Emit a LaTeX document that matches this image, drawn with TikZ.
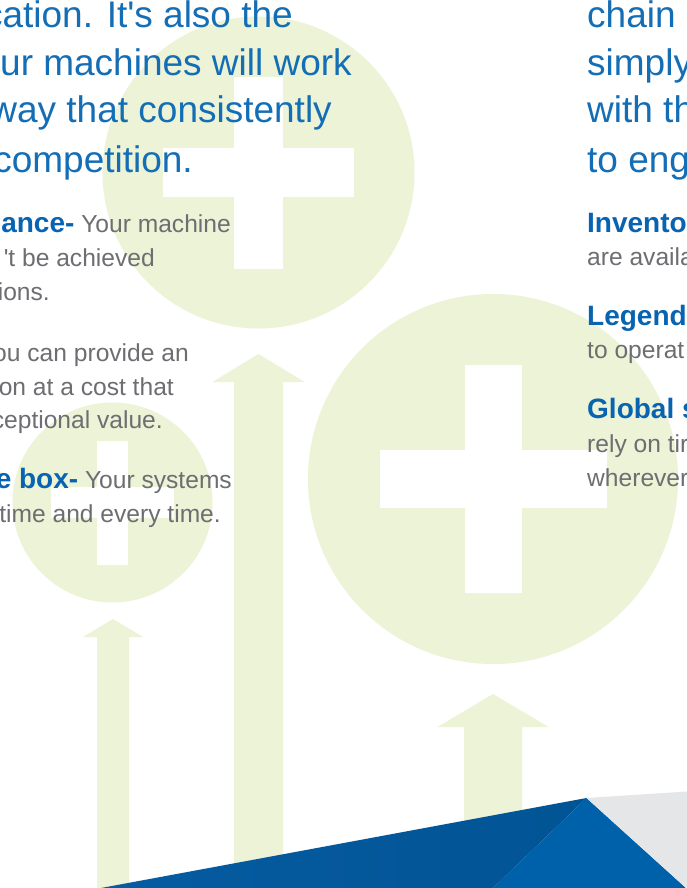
\documentclass[tikz,border=0pt]{standalone}
\usepackage{fontspec}
\setmainfont{Liberation Sans}[Ligatures=TeXOff]
\definecolor{leaf}{RGB}{236,243,214}
\definecolor{headblue}{RGB}{20,110,182}
\definecolor{boldblue}{RGB}{8,100,176}
\definecolor{txtgray}{RGB}{109,110,113}
\definecolor{navyL}{RGB}{6,92,162}
\definecolor{navyR}{RGB}{1,84,148}
\definecolor{midblue}{RGB}{0,97,171}
\definecolor{lightgray}{RGB}{229,230,232}
\newcommand{\upArrowFill}[5]{% cx, tip, base, half head, half shaft
  \fill[leaf] (#1,#2) -- ({#1+#4},#3) -- ({#1+#5},#3) -- ({#1+#5},888) -- ({#1-#5},888) -- ({#1-#5},#3) -- ({#1-#4},#3) -- cycle;}
\newcommand{\hdb}[1]{{\fontsize{28}{30}\selectfont\bfseries\color{boldblue}#1}}
\tikzset{
  disc/.style={circle, fill=leaf, inner sep=0pt, outer sep=0pt},
  bar/.style={rectangle, fill=white, inner sep=0pt, outer sep=0pt},
  headR/.style={font=\fontsize{37}{40}\selectfont, text=headblue, inner sep=0pt, anchor=base east},
  headL/.style={font=\fontsize{37}{40}\selectfont, text=headblue, inner sep=0pt, anchor=base west},
  bodyR/.style={font=\fontsize{24.6}{28}\selectfont, text=txtgray, inner sep=0pt, anchor=base east},
  bodyL/.style={font=\fontsize{24.6}{28}\selectfont, text=txtgray, inner sep=0pt, anchor=base west},
  boldL/.style={font=\fontsize{28}{30}\selectfont\bfseries, text=boldblue, inner sep=0pt, anchor=base west},
}
\begin{document}
\begin{tikzpicture}[x=1pt, y=-1pt]
\useasboundingbox (0,0) rectangle (687,888);
\clip (0,0) rectangle (687,888);
\fill[white] (0,0) rectangle (687,888);

% circles
\node[disc, minimum size=312pt] (circTop) at (258.5,172.5) {};
\node[disc, minimum size=200pt] (circSmall) at (112.5,502.5) {};
\node[disc, minimum size=370pt] (circBig) at (493,479) {};

% crosses
\node[bar, minimum width=49pt, minimum height=192pt] (topV) at (258.5,173) {};
\node[bar, minimum width=191pt, minimum height=49pt] (topH) at (258.5,172.5) {};
\node[bar, minimum width=31pt, minimum height=124pt] (smallV) at (112.5,503) {};
\node[bar, minimum width=123pt, minimum height=31pt] (smallH) at (112.5,502.5) {};
\node[bar, minimum width=57pt, minimum height=228pt] (bigV) at (493.5,479) {};
\node[bar, minimum width=227pt, minimum height=58pt] (bigH) at (493.5,479) {};

% arrows
\upArrowFill{113}{619}{637}{30}{16}
\upArrowFill{258.5}{354}{382}{46}{24.5}
\upArrowFill{493}{694}{727}{55.5}{29}

% headline left
\node[headR] (h1) at (293,28) {cation. It's also the};
\node[headR] (h2) at (352,76) {ur machines will work};
\node[headR] (h3) at (332,123) {way that consistently};
\node[headR] (h4) at (193,172) {competition.};

% headline right
\node[headL] (r1) at (587,28) {chain l};
\node[headL] (r2) at (587,76) {simply};
\node[headL] (r3) at (587,123) {with th};
\node[headL] (r4) at (587,172) {to eng};

% left body
\node[bodyR] (l1) at (231,232) {\hdb{ance-} Your machine};
\node[bodyR] (l2) at (155,266) {'t be achieved};
\node[bodyR] (l3) at (50,300) {ions.};
\node[bodyR] (l4) at (189,361) {ou can provide an};
\node[bodyR] (l5) at (174,395) {on at a cost that};
\node[bodyR] (l6) at (163,428) {ceptional value.};
\node[bodyR] (l7) at (232,488) {\hdb{e box-} Your systems};
\node[bodyR] (l8) at (221,522) {time and every time.};

% right body
\node[boldL] (b1) at (587,232) {Invento};
\node[bodyL] (b2) at (587,265) {are availa};
\node[boldL] (b3) at (587,325) {Legend};
\node[bodyL] (b4) at (587,358) {to operat};
\node[boldL] (b5) at (587,418) {Global s};
\node[bodyL] (b6) at (587,452) {rely on tir};
\node[bodyL] (b7) at (587,486) {wherever};

% bottom polygons
\coordinate (apex) at (586.5,798);
\coordinate (leftFoot) at (101,888);
\coordinate (midFoot) at (493,888);
\coordinate (rightFoot) at (686,888);
\coordinate (grayTop) at (687,791.5);
\coordinate (grayFoot) at (687,888);
\shade[left color=navyL, right color=navyR] (leftFoot) -- (apex) -- (midFoot) -- cycle;
\fill[midblue] (apex) -- (rightFoot) -- (midFoot) -- cycle;
\fill[lightgray] (apex) -- (grayTop) -- (grayFoot) -- (rightFoot) -- cycle;
\end{tikzpicture}
\end{document}
